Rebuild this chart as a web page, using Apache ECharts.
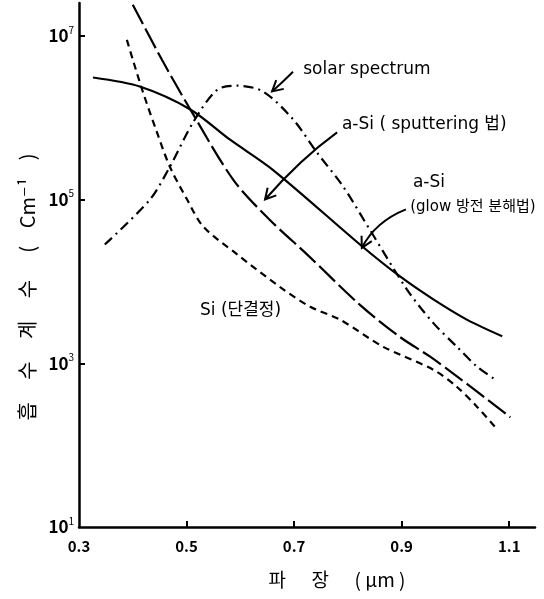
<!DOCTYPE html>
<html><head><meta charset="utf-8">
<script src="https://cdn.jsdelivr.net/npm/echarts@6/dist/echarts.min.js"></script>
<style>html,body{margin:0;padding:0;background:#fff}#c{width:544px;height:599px}</style>
</head><body><div id="c"></div>
<script>
// x: wavelength (um); values: log10 of absorption coefficient (cm^-1)
const xTickLabels = [0.3, 0.5, 0.7, 0.9, 1.1];
const yTickExp = [1, 3, 5, 7];

const glowX   = [0.326, 0.413, 0.507, 0.581, 0.661, 0.828, 0.897, 0.959, 1.022, 1.087];
const glowExp = [6.49, 6.38, 6.10, 5.73, 5.36, 4.42, 4.06, 3.78, 3.53, 3.33];

const sputX   = [0.400, 0.454, 0.507, 0.587, 0.655, 0.724, 0.823, 0.897, 0.953, 1.009, 1.102];
const sputExp = [7.38, 6.71, 6.10, 5.24, 4.75, 4.33, 3.71, 3.32, 3.08, 2.81, 2.34];

const siX   = [0.389, 0.400, 0.419, 0.445, 0.469, 0.501, 0.531, 0.594, 0.674, 0.730, 0.786, 0.866, 0.959, 1.003, 1.040, 1.078];
const siExp = [6.95, 6.71, 6.31, 5.82, 5.40, 5.00, 4.67, 4.33, 3.93, 3.69, 3.53, 3.20, 2.92, 2.71, 2.47, 2.19];

const solarX   = [0.348, 0.432, 0.469, 0.512, 0.557, 0.594, 0.642, 0.698, 0.743, 0.791, 0.841, 0.910, 0.959, 1.003, 1.040, 1.074];
const solarExp = [4.45, 5.00, 5.40, 5.94, 6.34, 6.39, 6.32, 5.98, 5.57, 5.16, 4.63, 3.90, 3.49, 3.20, 2.96, 2.80];

const labels = [
  { text: 'solar spectrum', at: [0.717, 6.59], size: 17 },
  { text: 'a-Si ( sputtering 법)', at: [0.789, 5.91], size: 17 },
  { text: 'a-Si', at: [0.921, 5.21], size: 17 },
  { text: '(glow 방전 분해법)', at: [0.916, 4.91], size: 15 },
  { text: 'Si (단결정)', at: [0.525, 3.64], size: 17 }
];
const arrows = [
  { from: [0.698, 6.56], ctrl: [0.680, 6.44], to: [0.659, 6.32] },
  { from: [0.780, 5.82], ctrl: [0.711, 5.49], to: [0.646, 5.00] },
  { from: [0.908, 4.88], ctrl: [0.851, 4.73], to: [0.826, 4.41] }
];

const pairs = (xs, ys) => xs.map((x, i) => [x, ys[i]]);
const FONT = '"Noto Sans CJK KR", "DejaVu Sans", sans-serif';
const LFONT = '"DejaVu Sans", "Noto Sans CJK KR", sans-serif';

const chart = echarts.init(document.getElementById('c'), null, { renderer: 'canvas' });

function lineSeries(name, xs, ys, type) {
  return {
    name, type: 'line', smooth: 0.3, showSymbol: false, symbol: 'none',
    data: pairs(xs, ys), silent: true,
    lineStyle: { color: '#000', width: 2.2, type: type }
  };
}

const option = {
  animation: false,
  backgroundColor: '#fff',
  grid: { left: 79, right: 9, top: 3, bottom: 72 },
  xAxis: {
    type: 'value', min: 0.3, max: 1.148,
    name: '파      장      ( μm )', nameLocation: 'middle', nameGap: 43,
    nameTextStyle: { color: '#000', fontSize: 19, fontFamily: FONT, padding: [0, 0, 0, 60] },
    axisLine: { lineStyle: { color: '#000', width: 2.5 } },
    axisTick: { inside: true, length: 6, lineStyle: { color: '#000', width: 2 }, customValues: [0.5, 0.7, 0.9, 1.1] },
    axisLabel: { customValues: xTickLabels, formatter: v => v.toFixed(1), color: '#000', fontSize: 15, fontWeight: 'bold', fontFamily: FONT, margin: 12 },
    splitLine: { show: false }
  },
  yAxis: {
    type: 'value', min: 1, max: 7.4,
    name: '흡     수     계     수      (    Cm⁻¹    )', nameLocation: 'middle', nameGap: 41, nameRotate: 90,
    nameTextStyle: { color: '#000', fontSize: 20, fontFamily: FONT, padding: [0, 44, 0, 0] },
    axisLine: { lineStyle: { color: '#000', width: 2.5 } },
    axisTick: { inside: true, length: 6, lineStyle: { color: '#000', width: 2 }, customValues: [3, 5, 7] },
    axisLabel: {
      customValues: yTickExp, margin: 5,
      formatter: v => '{b|10}{s|' + v + '}',
      rich: {
        b: { fontSize: 17, fontWeight: 'bold', color: '#000', fontFamily: FONT, lineHeight: 22 },
        s: { fontSize: 10, color: '#000', fontFamily: FONT, verticalAlign: 'top', lineHeight: 12 }
      }
    },
    splitLine: { show: false }
  },
  series: [
    lineSeries('a-Si (glow)', glowX, glowExp, 'solid'),
    lineSeries('a-Si (sputtering)', sputX, sputExp, [22, 5]),
    lineSeries('Si (단결정)', siX, siExp, [7, 5]),
    lineSeries('solar spectrum', solarX, solarExp, [10, 5, 2, 5])
  ]
};
chart.setOption(option);

const px = p => chart.convertToPixel({ gridIndex: 0 }, p);
const elements = [];
labels.forEach(l => {
  const p = px(l.at);
  elements.push({ type: 'text', x: p[0], y: p[1], style: { text: l.text, fill: '#000', font: l.size + 'px ' + LFONT, textAlign: 'left', textVerticalAlign: 'middle' } });
});
arrows.forEach(a => {
  const s = px(a.from), c = px(a.ctrl), e = px(a.to);
  elements.push({ type: 'bezierCurve', shape: { x1: s[0], y1: s[1], cpx1: c[0], cpy1: c[1], x2: e[0], y2: e[1] }, style: { stroke: '#000', lineWidth: 2, fill: null } });
  const ang = Math.atan2(e[1] - c[1], e[0] - c[0]);
  const L = 12, w = 0.5;
  const p1 = [e[0] - L * Math.cos(ang - w), e[1] - L * Math.sin(ang - w)];
  const p2 = [e[0] - L * Math.cos(ang + w), e[1] - L * Math.sin(ang + w)];
  elements.push({ type: 'polyline', shape: { points: [p1, e, p2] }, style: { stroke: '#000', lineWidth: 2, fill: null } });
});
chart.setOption({ graphic: { elements } });
</script>
</body></html>
